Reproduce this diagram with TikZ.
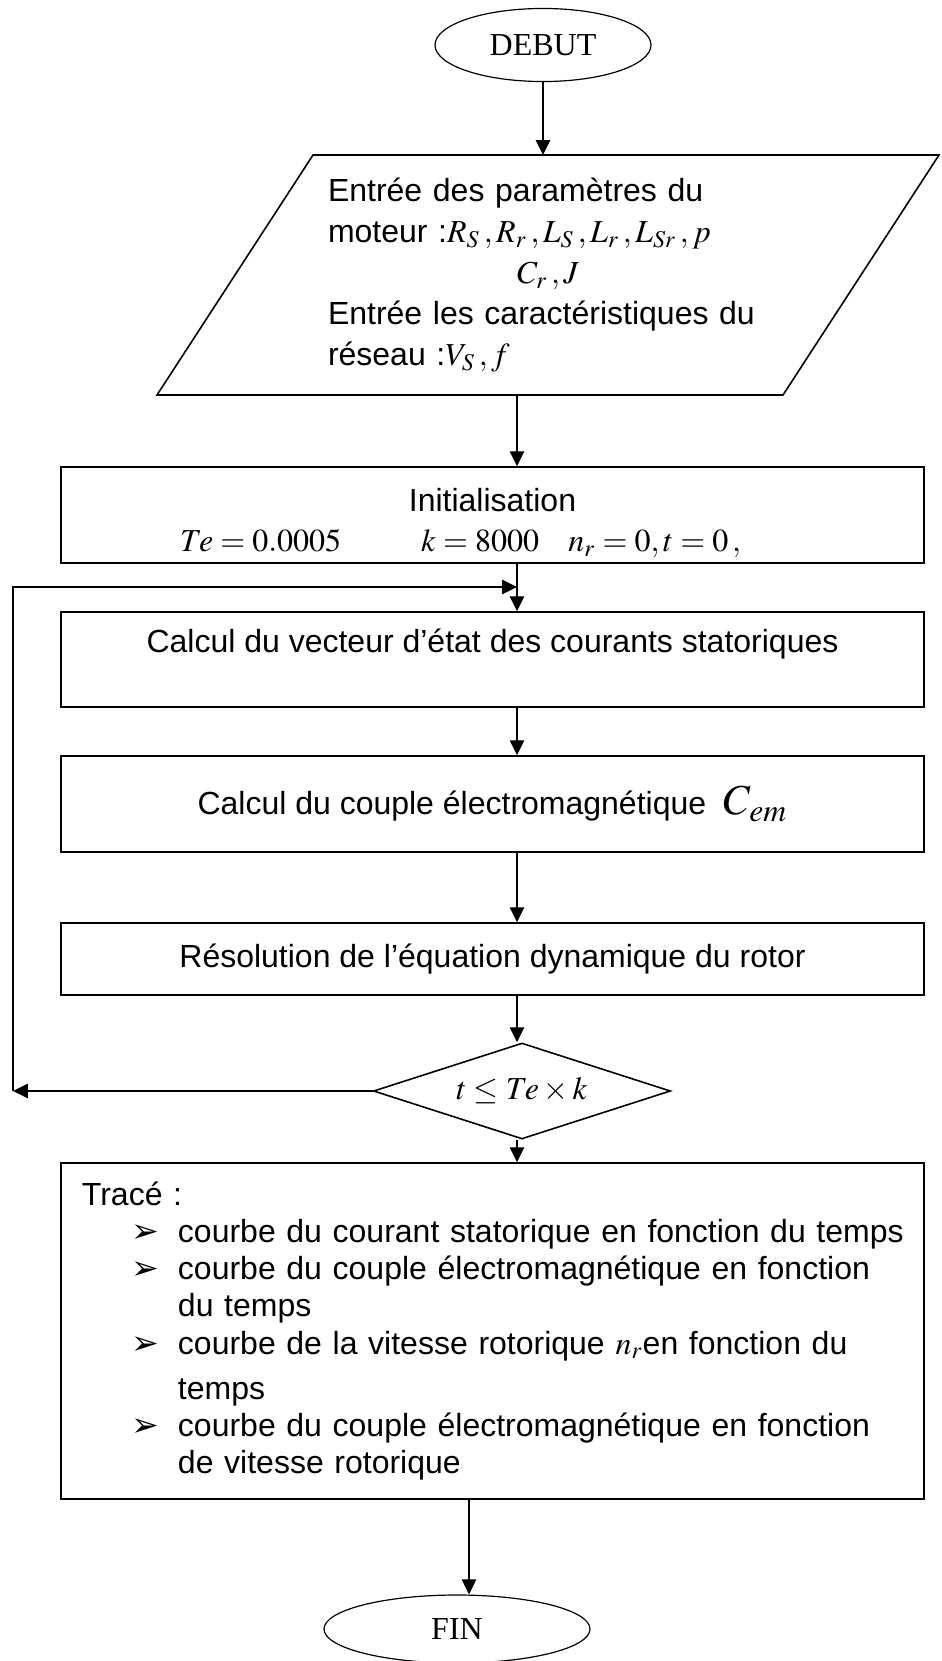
\documentclass[tikz,border=0pt]{standalone}
\usepackage{amsmath}
\usepackage{mathptmx}
\usepackage[no-math]{fontspec}
\setmainfont{Liberation Sans}
\newfontfamily\tnr{Liberation Serif}
\newfontfamily\dejavu{DejaVu Sans}
\usepackage{tikz}
\usetikzlibrary{shapes.geometric, arrows.meta}

\tikzset{
    boite/.style={draw, line width=0.6pt, minimum width=323.6pt, inner sep=0pt, align=center},
    borne/.style={draw, ellipse, line width=0.45pt, inner sep=0pt, font=\tnr\fontsize{12}{14}\selectfont},
    fleche/.style={->, line width=0.45pt},
}
\newcommand{\puce}[1]{\mbox{\hspace*{18.75pt}\makebox[17.25pt][l]{\dejavu\fontsize{12.5}{12.5}\selectfont ➢}#1}}
\newcommand{\suite}[1]{\mbox{\hspace*{36pt}#1}}

\begin{document}
\begin{tikzpicture}[x=0.375pt, y=-0.375pt, >={Triangle[length=5.6pt, width=5.4pt]}, font=\fontsize{12}{13.9}\selectfont]
    \useasboundingbox (0,0) rectangle (941,1661);
    \coordinate (axe) at (517,0);
    \coordinate (axefin) at (469,0);

    \node[borne, minimum width=81pt, minimum height=27.4pt] (debut) at (543,45) {DEBUT};

    % parallelogramme des entrees
    \coordinate (pbg) at (157,395);
    \coordinate (pbd) at (783,395);
    \coordinate (phd) at (939,155);
    \coordinate (phg) at (313,155);
    \draw[line width=0.6pt] (pbg) -- (pbd) -- (phd) -- (phg) -- cycle;
    \node[text width=165pt, align=left, inner sep=0pt, font=\fontsize{12}{15.4}\selectfont] (entree) at (548,275) {%
        Entrée des paramètres du\\
        moteur :$R_S\,, R_r\,, L_S\,, L_r\,, L_{Sr}\,, p$\\
        \hspace*{71pt}$C_r\,, J$\\
        Entrée les caractéristiques du\\
        réseau :$V_S\,, f$};

    \node[boite, minimum height=36pt, font=\fontsize{12}{15}\selectfont] (init) at (492.5,515) {%
        \rule{0pt}{15pt}Initialisation\\
        $Te = 0.0005$\hspace*{30pt}$k = 8000$\hspace*{11pt}$n_r = 0, t = 0\,,$\hspace*{24pt}};

    \node[boite, minimum height=35.6pt] (vecteur) at (492.5,659.5) {Calcul du vecteur d’état des courants statoriques\\ \mbox{}};

    \node[boite, minimum height=36pt] (couple) at (492.5,804) {Calcul du couple électromagnétique\; {\fontsize{16}{18}\selectfont$C_{em}$}};

    \node[boite, minimum height=27pt] (resol) at (492.5,959) {Résolution de l’équation dynamique du rotor};

    \node[draw, diamond, aspect=3, minimum width=111.4pt, minimum height=36pt, inner sep=0pt, line width=0.6pt] (test) at (522,1091) {$t \le Te\times k$};

    \node[boite, minimum height=126pt, text width=307.9pt, align=left] (trace) at (492.5,1331) {%
        Tracé :\\
        \puce{courbe du courant statorique en fonction du temps}\\
        \puce{courbe du couple électromagnétique en fonction}\\
        \suite{du temps}\\
        \puce{courbe de la vitesse rotorique $n_r$en fonction du}\\[3pt]
        \suite{temps}\\
        \puce{courbe du couple électromagnétique en fonction}\\
        \suite{de vitesse rotorique}};

    \node[borne, minimum width=99.75pt, minimum height=25.5pt] (fin) at (457,1629) {FIN};

    \coordinate (coin) at (13,1091);
    \coordinate (retour) at (517,587);

    \draw[fleche] (debut.south) -- (debut.south |- phg);
    \draw[fleche] (axe |- pbg) -- (init.north -| axe);
    \draw[fleche] (init.south -| axe) -- (vecteur.north -| axe);
    \draw[fleche] (vecteur.south -| axe) -- (couple.north -| axe);
    \draw[fleche] (couple.south -| axe) -- (resol.north -| axe);
    \draw[fleche] (resol.south -| axe) -- (test.north -| axe);
    \draw[fleche] (test.south -| axe) -- (trace.north -| axe);
    \draw[fleche] (test.west) -- (coin);
    \draw[fleche] (coin) |- (retour);
    \draw[fleche] (trace.south -| axefin) -- (fin.north -| axefin);
\end{tikzpicture}
\end{document}
